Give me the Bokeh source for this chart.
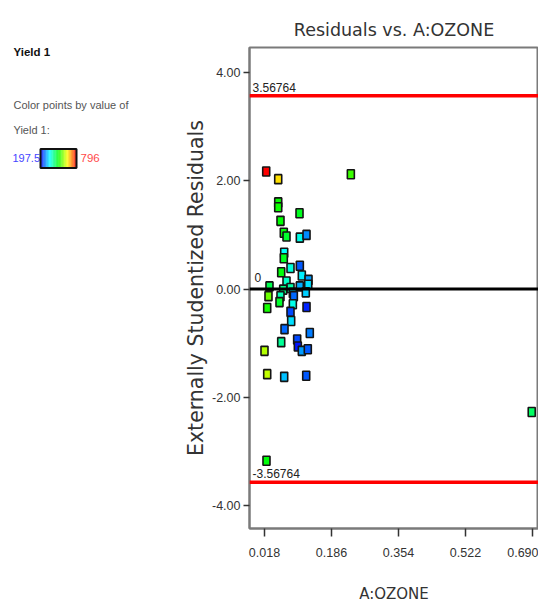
import colorsys

from bokeh.core.properties import value
from bokeh.embed import file_html
from bokeh.layouts import row
from bokeh.models import (ColumnDataSource, FixedTicker, LinearColorMapper,
                          NumeralTickFormatter, Range1d, Span)
from bokeh.plotting import figure
from bokeh.resources import INLINE
from bokeh.transform import transform

# ---- data -------------------------------------------------------------
ozone = [0.0223, 0.0524, 0.2345, 0.0524, 0.0524, 0.1058, 0.0581, 0.0664,
         0.0732, 0.1066, 0.1234, 0.0674, 0.0664, 0.0832, 0.1066, 0.0599,
         0.1116, 0.0732, 0.1284, 0.1276, 0.0305, 0.1066, 0.0832, 0.0649,
         0.0891, 0.1216, 0.0280, 0.0581, 0.0916, 0.0556, 0.0248, 0.0891,
         0.1234, 0.0832, 0.0849, 0.0682, 0.1316, 0.0999, 0.1016, 0.1116,
         0.1266, 0.0599, 0.0180, 0.0248, 0.0674, 0.1226, 0.0230, 0.6880]
residual = [2.17, 2.03, 2.12, 1.60, 1.51, 1.40, 1.26, 1.04,
            0.97, 0.95, 1.00, 0.67, 0.57, 0.39, 0.43, 0.31,
            0.25, 0.14, 0.17, 0.08, 0.05, 0.05, 0.02, -0.01,
            -0.07, -0.06, -0.13, -0.13, -0.13, -0.24, -0.35, -0.28,
            -0.33, -0.42, -0.59, -0.74, -0.81, -0.93, -1.06, -1.14,
            -1.11, -0.98, -1.14, -1.57, -1.62, -1.60, -3.17, -2.27]
yield1 = [796, 665, 530, 500, 505, 480, 495, 490,
          470, 360, 280, 350, 480, 370, 250, 490,
          340, 380, 290, 330, 450, 300, 400, 420,
          340, 320, 560, 390, 260, 470, 510, 360,
          220, 240, 330, 260, 270, 240, 210, 290,
          250, 410, 600, 610, 310, 250, 490, 440]

yield_low, yield_high = 197.5, 796
upper_limit, lower_limit = 3.56764, -3.56764
x_ticks = [0.018, 0.186, 0.354, 0.522, 0.690]
y_ticks = [-4, -2, 0, 2, 4]

# ---- styling ----------------------------------------------------------
SANS = "Liberation Sans"
AXIS_GREY = "#7a7a7a"

# blue -> cyan -> green -> yellow -> red
palette = []
for i in range(256):
    hue = (240.0 - 240.0 * i / 255.0) / 360.0
    r, g, b = colorsys.hsv_to_rgb(hue, 1.0, 1.0)
    palette.append("#%02x%02x%02x" % (int(r * 255), int(g * 255), int(b * 255)))

mapper = LinearColorMapper(palette=palette, low=yield_low, high=yield_high)

# ---- residual plot ----------------------------------------------------
p = figure(width=364, height=605, output_backend="svg", toolbar_location=None,
           x_range=Range1d(-0.0196, 0.705), y_range=Range1d(-4.42, 4.46),
           min_border_left=75, min_border_right=0,
           min_border_top=47, min_border_bottom=75)

p.title.text = "Residuals vs. A:OZONE"
p.title.align = "center"
p.title.text_font = "DejaVu Sans"
p.title.text_font_size = "17.5px"
p.title.text_font_style = "normal"
p.title.text_color = "#333333"
p.title.standoff = 16

p.grid.visible = False
p.outline_line_color = AXIS_GREY
p.outline_line_width = 2

p.xaxis.ticker = FixedTicker(ticks=x_ticks)
p.xaxis.formatter = NumeralTickFormatter(format="0.000")
p.yaxis.ticker = FixedTicker(ticks=y_ticks)
p.yaxis.formatter = NumeralTickFormatter(format="0.00")
p.xaxis.axis_label = "A:OZONE"
p.yaxis.axis_label = "Externally Studentized Residuals"

for ax in (p.xaxis[0], p.yaxis[0]):
    ax.axis_line_color = AXIS_GREY
    ax.axis_line_width = 2
    ax.major_tick_line_color = "#333333"
    ax.major_tick_line_width = 1.5
    ax.major_tick_in = 0
    ax.minor_tick_line_color = None
    ax.major_label_text_font = SANS
    ax.major_label_text_font_size = "12.5px"
    ax.major_label_text_color = "#333333"
    ax.axis_label_text_font_style = "normal"
    ax.axis_label_text_color = "#333333"

p.xaxis.major_tick_out = 8
p.xaxis.major_label_standoff = 11
p.xaxis.axis_label_text_font = "DejaVu Sans"
p.xaxis.axis_label_text_font_size = "15px"
p.xaxis.axis_label_standoff = 25

p.yaxis.major_tick_out = 6
p.yaxis.major_label_standoff = 3
p.yaxis.axis_label_text_font = "DejaVu Sans"
p.yaxis.axis_label_text_font_size = "20.5px"
p.yaxis.axis_label_standoff = 1

# limit / zero labels, drawn under the points
x0 = p.x_range.start
label_style = dict(text_font=value(SANS), text_font_size="12px",
                   text_color="#222222", text_baseline="bottom")
p.text(x=[x0, x0], y=[upper_limit, lower_limit],
       text=[f"{upper_limit:g}", f"{lower_limit:g}"],
       x_offset=3, y_offset=-4, **label_style)
p.text(x=[x0], y=[0], text=["0"], x_offset=5, y_offset=-7, **label_style)

src = ColumnDataSource(dict(ozone=ozone, residual=residual, yield1=yield1))
p.rect(x="ozone", y="residual", width=7, height=9,
       width_units="screen", height_units="screen", source=src,
       fill_color=transform("yield1", mapper),
       line_color="#141414", line_width=1.6)

p.add_layout(Span(location=upper_limit, dimension="width",
                  line_color="#ff0000", line_width=3.5))
p.add_layout(Span(location=lower_limit, dimension="width",
                  line_color="#ff0000", line_width=3.5))
p.add_layout(Span(location=0, dimension="width",
                  line_color="#000000", line_width=3))

# ---- colour key -------------------------------------------------------
# the row aligns both frames, so the key's frame spans page rows 47..530
key = figure(width=174, height=605, output_backend="svg", toolbar_location=None,
             x_range=Range1d(0, 174), y_range=Range1d(530, 47),
             x_axis_location=None, y_axis_location=None, min_border=0)
key.grid.visible = False
key.outline_line_color = None

key.text(x=[13], y=[52], text=["Yield 1"], text_font=value(SANS),
         text_font_size="11.5px", text_font_style="bold", text_color="#111111",
         text_baseline="middle")
key.text(x=[13, 13], y=[105, 130], text=["Color points by value of", "Yield 1:"],
         text_font=value(SANS), text_font_size="11px", text_color="#555555",
         text_baseline="middle")
key.text(x=[12], y=[158], text=[f"{yield_low:g}"], text_font=value(SANS),
         text_font_size="11px", text_color="#4646ff", text_baseline="middle")
key.text(x=[80], y=[158], text=[f"{yield_high:g}"], text_font=value(SANS),
         text_font_size="11.5px", text_color="#ff4a4a", text_baseline="middle")

n_steps = 48
bar_left, bar_right = 40.0, 76.0
step = (bar_right - bar_left) / n_steps
lefts = [bar_left + i * step for i in range(n_steps)]
rights = [l + step for l in lefts]
cols = [palette[int(i * 255 / (n_steps - 1))] for i in range(n_steps)]
key.quad(left=lefts, right=rights, top=149, bottom=168,
         fill_color=cols, line_color=None)
key.quad(left=[bar_left], right=[bar_right], top=[149], bottom=[168],
         fill_color=None, line_color="#111111", line_width=2)

layout = row(key, p)
open("out.html", "w").write(file_html(layout, INLINE))
